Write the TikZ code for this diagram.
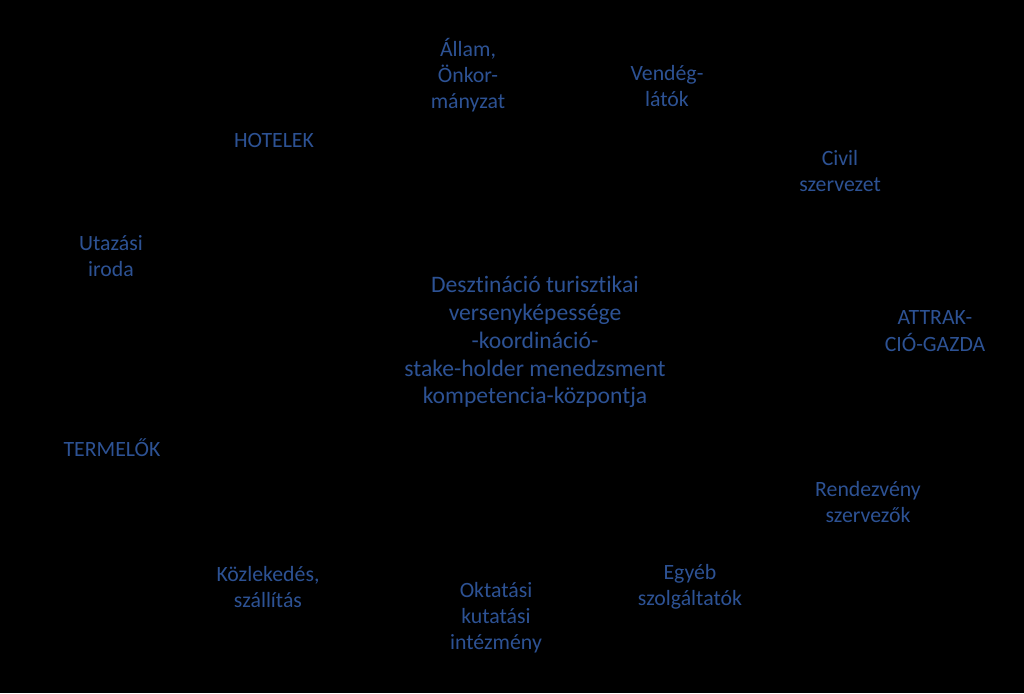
\documentclass[tikz,border=0pt]{standalone}
\usepackage{fontspec}
\setmainfont[Ligatures=CommonOff]{Carlito}
\definecolor{textblue}{RGB}{45,82,148}

\begin{document}
\begin{tikzpicture}[x=0.025cm,y=-0.025cm,
  label/.style={text=textblue, align=center, inner sep=0pt, font=\fontsize{15.5}{18.6}\selectfont},
  hub/.style={text=textblue, align=center, inner sep=0pt, font=\fontsize{16.8}{19.8}\selectfont}]
  \fill[black] (0,0) rectangle (1024,693);
  \useasboundingbox (0,0) rectangle (1024,693);

  \node[hub] (center) at (535,342) {Desztináció turisztikai\\versenyképessége\\-koordináció-\\stake-holder menedzsment\\kompetencia-központja};

  \node[label] (allam) at (468,75) {Állam,\\Önkor-\\mányzat};
  \node[label] (vendeg) at (667,86) {Vendég-\\látók};
  \node[label] (hotel) at (274,140) {HOTELEK};
  \node[label] (civil) at (840,171) {Civil\\szervezet};
  \node[label] (iroda) at (111,256) {Utazási\\iroda};
  \node[label] (attrak) at (935,331) {ATTRAK-\\CIÓ-GAZDA};
  \node[label] (termelo) at (112,448) {TERMELŐK};
  \node[label] (rendez) at (868,502) {Rendezvény\\szervezők};
  \node[label] (kozlek) at (268,587) {Közlekedés,\\szállítás};
  \node[label] (egyeb) at (690,587) {Egyéb\\szolgáltatók};
  \node[label] (oktat) at (496,618) {Oktatási\\kutatási\\intézmény};
\end{tikzpicture}
\end{document}
